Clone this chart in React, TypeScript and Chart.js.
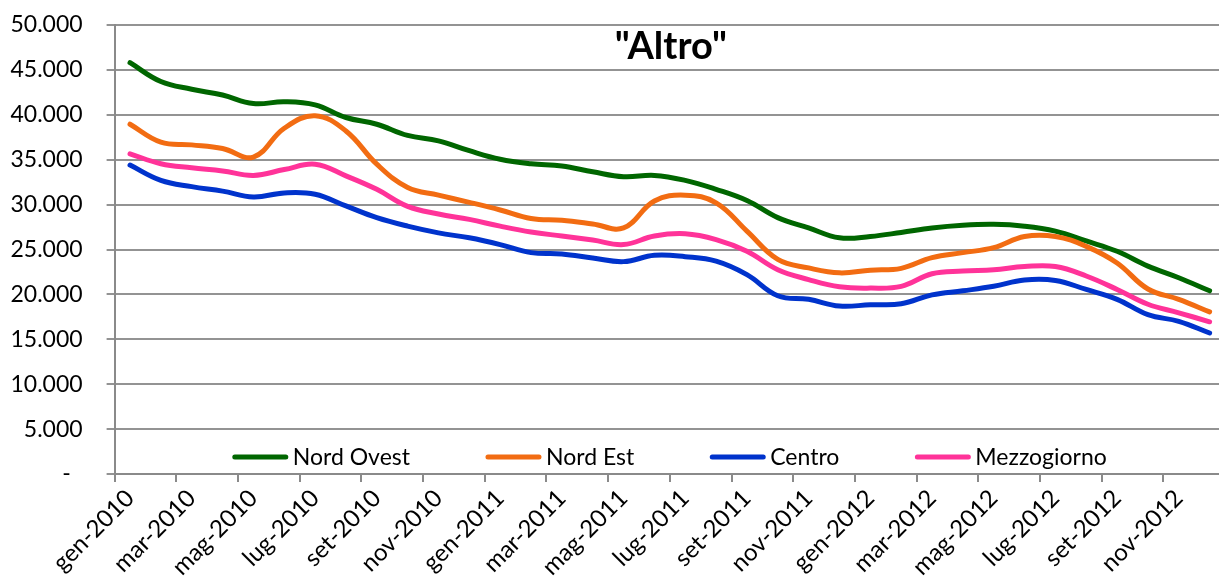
import React, { useEffect, useRef } from "react";
import { Chart, registerables } from "chart.js";

Chart.register(...registerables);

const TITLE = '"Altro"';

const months = [
  "gen-2010", "feb-2010", "mar-2010", "apr-2010", "mag-2010", "giu-2010",
  "lug-2010", "ago-2010", "set-2010", "ott-2010", "nov-2010", "dic-2010",
  "gen-2011", "feb-2011", "mar-2011", "apr-2011", "mag-2011", "giu-2011",
  "lug-2011", "ago-2011", "set-2011", "ott-2011", "nov-2011", "dic-2011",
  "gen-2012", "feb-2012", "mar-2012", "apr-2012", "mag-2012", "giu-2012",
  "lug-2012", "ago-2012", "set-2012", "ott-2012", "nov-2012", "dic-2012",
];

const seriesNames = ["Nord Ovest", "Nord Est", "Centro", "Mezzogiorno"];
const seriesColors = ["#006600", "#F26C12", "#0033CC", "#FF3399"];

const nordOvest = [
  45800, 43700, 42850, 42200, 41250, 41450, 41100, 39700, 38950, 37700, 37100, 36000,
  35050, 34550, 34300, 33650, 33100, 33250, 32700, 31700, 30450, 28550, 27400, 26300,
  26450, 26900, 27400, 27700, 27800, 27600, 27050, 25950, 24800, 23150, 21850, 20400,
];

const nordEst = [
  38950, 36950, 36650, 36250, 35300, 38500, 39900, 38200, 34500, 31900, 31050, 30250,
  29400, 28450, 28250, 27850, 27400, 30400, 31050, 30200, 27050, 23900, 22950, 22400,
  22700, 22900, 24100, 24650, 25200, 26450, 26450, 25350, 23500, 20600, 19450, 18050,
];

const centro = [
  34400, 32700, 32000, 31500, 30850, 31300, 31150, 29850, 28550, 27600, 26850, 26300,
  25550, 24650, 24500, 24050, 23650, 24350, 24200, 23700, 22200, 19850, 19450, 18700,
  18850, 18950, 19950, 20400, 20900, 21600, 21550, 20550, 19450, 17750, 17000, 15700,
];

const mezzogiorno = [
  35650, 34550, 34100, 33750, 33250, 33900, 34500, 33200, 31700, 29800, 28950, 28350,
  27600, 26950, 26500, 26050, 25550, 26500, 26750, 26100, 24800, 22750, 21650, 20850,
  20700, 20900, 22300, 22600, 22750, 23100, 23100, 22050, 20550, 18900, 17950, 16950,
];

const seriesValues = [nordOvest, nordEst, centro, mezzogiorno];

const Y_MIN = 0;
const Y_MAX = 50000;
const Y_STEP = 5000;

const FONT = "Lato, 'Open Sans', sans-serif";

function formatIt(v: number): string {
  if (v === 0) return "-  ";
  return Math.round(v)
    .toString()
    .replace(/\B(?=(\d{3})+(?!\d))/g, ".");
}

const overlayPlugin = {
  id: "overlayTitleLegend",
  afterDraw(chart: any) {
    const { ctx, chartArea } = chart;
    const cx = (chartArea.left + chartArea.right) / 2;
    ctx.save();
    // Title
    ctx.font = `bold 38px ${FONT}`;
    ctx.fillStyle = "#000000";
    ctx.textAlign = "center";
    ctx.textBaseline = "middle";
    ctx.fillText(TITLE, cx + 1, chartArea.top + 22);

    // Legend inside chart area, bottom
    ctx.font = `23px ${FONT}`;
    const lineLen = 55;
    const gapLineText = 5;
    const gapItems = 76;
    const widths = seriesNames.map((n) => ctx.measureText(n).width);
    let total = 0;
    widths.forEach((w, i) => {
      total += lineLen + gapLineText + w;
      if (i < widths.length - 1) total += gapItems;
    });
    let x = cx - total / 2;
    const y = chartArea.bottom - 17;
    ctx.textAlign = "left";
    ctx.textBaseline = "middle";
    seriesNames.forEach((name, i) => {
      ctx.strokeStyle = seriesColors[i];
      ctx.lineWidth = 5;
      ctx.lineCap = "round";
      ctx.beginPath();
      ctx.moveTo(x + 2, y);
      ctx.lineTo(x + lineLen - 2, y);
      ctx.stroke();
      ctx.fillStyle = "#000000";
      ctx.fillText(name, x + lineLen + gapLineText, y + 1);
      x += lineLen + gapLineText + widths[i] + gapItems;
    });
    ctx.restore();
  },
};

export default function App() {
  const canvasRef = useRef<HTMLCanvasElement | null>(null);

  useEffect(() => {
    if (!canvasRef.current) return;
    const chart = new Chart(canvasRef.current, {
      type: "line",
      data: {
        labels: months,
        datasets: seriesNames.map((name, i) => ({
          label: name,
          data: seriesValues[i],
          borderColor: seriesColors[i],
          backgroundColor: seriesColors[i],
          borderWidth: 5,
          pointRadius: 0,
          pointHoverRadius: 0,
          tension: 0.4,
          borderCapStyle: "round" as const,
          borderJoinStyle: "round" as const,
          fill: false,
          order: seriesNames.length - i,
        })),
      },
      options: {
        animation: false,
        responsive: true,
        maintainAspectRatio: false,
        layout: { padding: { top: 25, right: 2, left: 0, bottom: 0 } },
        plugins: {
          legend: { display: false },
          title: { display: false },
          tooltip: { enabled: false },
        },
        scales: {
          x: {
            type: "category",
            offset: true,
            grid: {
              offset: true,
              drawOnChartArea: false,
              drawTicks: true,
              tickLength: 8,
              lineWidth: 2,
              color: (c: any) => (c.index % 2 === 0 ? "#8a8a8a" : "rgba(0,0,0,0)"),
            },
            border: { display: true, color: "#8a8a8a", width: 2 },
            ticks: {
              autoSkip: false,
              maxRotation: 45,
              minRotation: 45,
              padding: 2,
              color: "#000000",
              font: { family: FONT, size: 24 },
              callback: (_v: any, i: number) => (i % 2 === 0 ? months[i] : ""),
            },
            afterFit: (scale: any) => {
              scale.height = 109;
            },
          },
          y: {
            min: Y_MIN,
            max: Y_MAX,
            grid: {
              color: "#939393",
              lineWidth: 2,
              drawTicks: true,
              tickLength: 8,
            },
            border: { display: true, color: "#8a8a8a", width: 2 },
            ticks: {
              stepSize: Y_STEP,
              padding: 24,
              color: "#000000",
              font: { family: FONT, size: 23 },
              callback: (v: any) => formatIt(Number(v)),
            },
            afterFit: (scale: any) => {
              scale.width = 114.6;
              scale.paddingTop = 0;
              scale.paddingBottom = 0;
            },
          },
        },
      },
      plugins: [overlayPlugin],
    });
    return () => chart.destroy();
  }, []);

  return (
    <div
      style={{
        position: "fixed",
        left: 0,
        top: 0,
        width: 1219,
        height: 583,
        overflow: "hidden",
        background: "#ffffff",
      }}
    >
      <div style={{ position: "relative", width: 1232, height: 583 }}>
        <canvas ref={canvasRef} />
      </div>
    </div>
  );
}
